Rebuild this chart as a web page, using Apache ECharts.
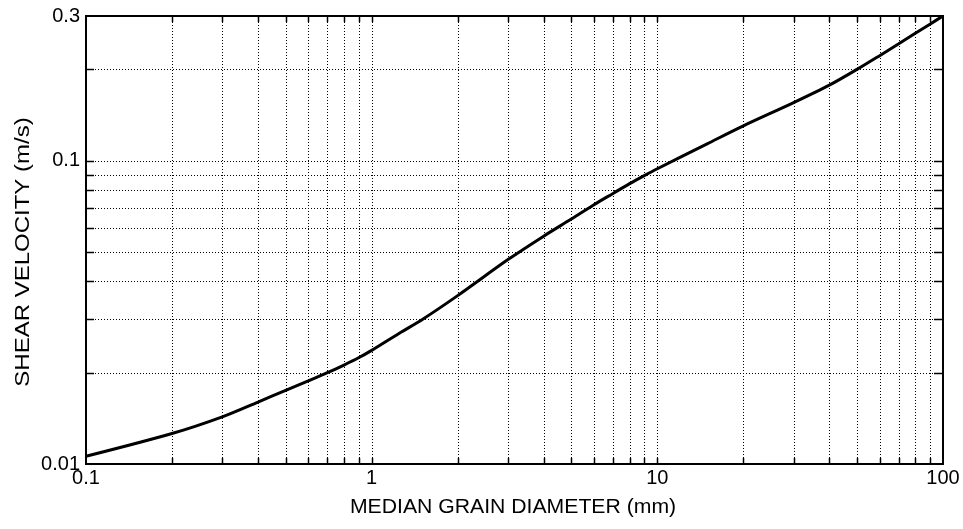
<!DOCTYPE html>
<html>
<head>
<meta charset="utf-8">
<title>Shear velocity vs median grain diameter</title>
<script src="https://cdn.jsdelivr.net/npm/echarts@6/dist/echarts.min.js"></script>
<style>
  html, body { margin: 0; padding: 0; background: #fff; }
  #chart { width: 963px; height: 529px; }
</style>
</head>
<body>
<div id="chart"></div>
<script>
// Median grain diameter (mm) and the matching critical shear velocity (m/s)
const grainDiameter = [0.1, 0.2, 0.3, 0.4, 0.5, 0.6, 0.7, 0.8, 0.9, 1.0, 1.25, 1.5, 2, 3, 4, 5, 6, 7, 8, 9, 10, 15, 20, 30, 40, 50, 60, 70, 80, 90, 100];
const shearVelocity = [0.0106, 0.0126, 0.0143, 0.0160, 0.0175, 0.0188, 0.0200, 0.0212, 0.0224, 0.0237, 0.0270, 0.0299, 0.0359, 0.0472, 0.0564, 0.0642, 0.0716, 0.0780, 0.0840, 0.0893, 0.0941, 0.1139, 0.1303, 0.1554, 0.1774, 0.2000, 0.2220, 0.2430, 0.2630, 0.2820, 0.3000];

// Axis ranges and the labelled ticks
const xRange = [0.1, 100];
const yRange = [0.01, 0.3];
const xTickLabels = ['0.1', '1', '10', '100'];
const yTickLabels = ['0.01', '0.1', '0.3'];

// Log-cycle grid lines
const xGridValues = [0.2, 0.3, 0.4, 0.5, 0.6, 0.7, 0.8, 0.9, 1, 2, 3, 4, 5, 6, 7, 8, 9, 10, 20, 30, 40, 50, 60, 70, 80, 90];
const yGridValues = [0.02, 0.03, 0.04, 0.05, 0.06, 0.07, 0.08, 0.09, 0.1, 0.2];

const xTitle = 'MEDIAN GRAIN DIAMETER (mm)';
const yTitle = 'SHEAR VELOCITY (m/s)';

const FONT = '"Liberation Sans", Arial, Helvetica, sans-serif';
const INK = '#000';

function tickText(list) {
  return function (v) {
    const s = String(+Number(v).toPrecision(3));
    return list.indexOf(s) >= 0 ? s : '';
  };
}

// Dotted grid line across the plot with short solid ticks at both edges
function gridRenderer(vertical) {
  return function (params, api) {
    const cs = params.coordSys;
    const p = api.coord([api.value(0), api.value(1)]);
    const dotted = { stroke: INK, lineWidth: 1, lineDash: [1, 2] };
    const solid = { stroke: INK, lineWidth: 1.5 };
    const children = [];
    if (vertical) {
      const x = Math.round(p[0]) + 0.5;
      const top = cs.y, bottom = cs.y + cs.height;
      children.push({ type: 'line', shape: { x1: x, y1: top, x2: x, y2: bottom }, style: dotted, silent: true });
      children.push({ type: 'line', shape: { x1: x, y1: bottom, x2: x, y2: bottom - 6 }, style: solid, silent: true });
      children.push({ type: 'line', shape: { x1: x, y1: top, x2: x, y2: top + 6 }, style: solid, silent: true });
    } else {
      const y = Math.round(p[1]) + 0.5;
      const left = cs.x, right = cs.x + cs.width;
      children.push({ type: 'line', shape: { x1: left, y1: y, x2: right, y2: y }, style: dotted, silent: true });
      children.push({ type: 'line', shape: { x1: left, y1: y, x2: left + 8, y2: y }, style: solid, silent: true });
      children.push({ type: 'line', shape: { x1: right, y1: y, x2: right - 9, y2: y }, style: solid, silent: true });
    }
    return { type: 'group', children: children };
  };
}

const chart = echarts.init(document.getElementById('chart'), null, { renderer: 'canvas' });

chart.setOption({
  backgroundColor: '#fff',
  animation: false,
  grid: {
    left: 86, right: 20, top: 16, bottom: 65,
    show: true, borderColor: INK, borderWidth: 2, backgroundColor: 'transparent'
  },
  // Axis titles, slightly widened to the lettering of the printed figure
  graphic: [
    {
      type: 'text', x: 513, y: 507, scaleX: 1.06, silent: true,
      style: { text: xTitle, fontFamily: FONT, fontSize: 20, fill: INK, align: 'center', verticalAlign: 'middle' }
    },
    {
      type: 'text', x: 23, y: 252, rotation: Math.PI / 2, scaleX: 1.2, silent: true,
      style: { text: yTitle, fontFamily: FONT, fontSize: 20, fill: INK, align: 'center', verticalAlign: 'middle' }
    }
  ],
  xAxis: {
    type: 'log', logBase: 10, min: xRange[0], max: xRange[1],
    axisLine: { show: true, lineStyle: { color: INK, width: 2 } },
    axisTick: { show: false },
    minorTick: { show: false },
    splitLine: { show: false },
    axisLabel: {
      color: INK, fontFamily: FONT, fontSize: 20, margin: 4,
      showMinLabel: true, showMaxLabel: true,
      formatter: tickText(xTickLabels)
    }
  },
  yAxis: {
    type: 'log', logBase: 10, min: yRange[0], max: yRange[1],
    axisLine: { show: true, lineStyle: { color: INK, width: 2 } },
    axisTick: { show: false },
    minorTick: { show: false },
    splitLine: { show: false },
    axisLabel: {
      color: INK, fontFamily: FONT, fontSize: 20, margin: 6,
      showMinLabel: true, showMaxLabel: true,
      formatter: tickText(yTickLabels)
    }
  },
  series: [
    {
      type: 'custom',
      renderItem: gridRenderer(true),
      data: xGridValues.map(v => [v, yRange[0]]),
      z: 1, silent: true, clip: false
    },
    {
      type: 'custom',
      renderItem: gridRenderer(false),
      data: yGridValues.map(v => [xRange[0], v]),
      z: 1, silent: true, clip: false
    },
    {
      type: 'line',
      data: grainDiameter.map((d, i) => [d, shearVelocity[i]]),
      showSymbol: false, symbol: 'none',
      smooth: 0.3,
      lineStyle: { color: INK, width: 3 },
      z: 5
    }
  ]
});
</script>
</body>
</html>
